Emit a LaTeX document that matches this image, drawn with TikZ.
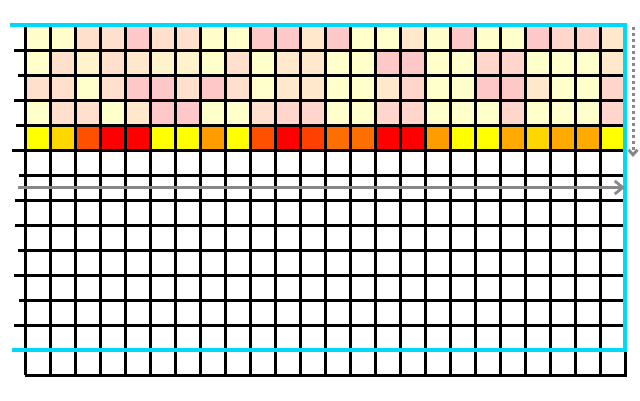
\documentclass[tikz,border=0pt]{standalone}
\usetikzlibrary{arrows.meta}
\definecolor{cY}{HTML}{FFFFCC}
\definecolor{cCr}{HTML}{FFF3CC}
\definecolor{cPe}{HTML}{FFE0CC}
\definecolor{cLp}{HTML}{FFE8CC}
\definecolor{cPk}{HTML}{FFC8C8}
\definecolor{cPs}{HTML}{FFD5CC}
\definecolor{cYe}{HTML}{FFFF00}
\definecolor{cGo}{HTML}{FFD700}
\definecolor{cAb}{HTML}{FFAA00}
\definecolor{cOr}{HTML}{FF9D00}
\definecolor{cDk}{HTML}{FF6E00}
\definecolor{cRa}{HTML}{FF5000}
\definecolor{cRb}{HTML}{FF4000}
\definecolor{cRd}{HTML}{FF0000}
\definecolor{cyanline}{HTML}{00D8F8}
\definecolor{arrowgray}{HTML}{888888}
\tikzset{
  gridline/.style={black, line width=3pt},
  frameline/.style={cyanline, line width=3.2pt},
  scanarrow/.style={arrowgray, line width=2.8pt, -{Straight Barb[length=8pt,width=13pt]}},
  dotarrow/.style={arrowgray, line width=3pt, dash pattern=on 3pt off 3pt, -{Straight Barb[length=5pt,width=9pt]}}
}
\begin{document}
\begin{tikzpicture}[x=1pt,y=-1pt]
\useasboundingbox (0,0) rectangle (640,400);
\fill[white] (0,0) rectangle (640,400);
% cells
\foreach \r/\lst in {
 0/{cY,cY,cPe,cPe,cPk,cPe, cPe,cY,cY,cPk,cPk,cLp, cPk,cY,cY,cLp,cY,cPk, cY,cY,cPk,cPs,cPs,cLp},
 1/{cY,cPe,cCr,cPe,cLp,cCr, cCr,cY,cPe,cY,cLp,cLp, cY,cY,cPk,cPk,cY,cY, cPs,cPs,cY,cY,cY,cLp},
 2/{cPe,cPe,cY,cPe,cPk,cPk, cPe,cPk,cPe,cY,cLp,cLp, cY,cY,cLp,cPs,cY,cY, cPk,cPk,cLp,cY,cY,cPs},
 3/{cY,cPe,cPe,cY,cLp,cPk, cPk,cY,cY,cPe,cPs,cPs, cY,cY,cPs,cPs,cY,cY, cY,cPs,cY,cY,cY,cPs},
 4/{cYe,cGo,cRa,cRd,cRd,cYe, cYe,cOr,cYe,cRa,cRd,cRb, cDk,cDk,cRd,cRd,cOr,cYe, cYe,cAb,cGo,cAb,cAb,cYe}} {
  \foreach \c [count=\i from 0] in \lst {
    \fill[\c] ({25+25*\i},{25+25*\r}) rectangle ++(25,25);
  }
}
% vertical grid lines
\foreach \i in {0,...,24} {
  \draw[gridline] ({25+25*\i},25) -- ({25+25*\i},375);
}
% horizontal grid lines with left ticks
\foreach \yy/\xs in {50/14,75/18,100/14,125/16,150/12,175/19,200/15,225/15,250/18,275/14,300/19,325/14,350/14} {
  \draw[gridline] (\xs,\yy) -- (625,\yy);
}
\draw[gridline] (25,375) -- (627,375);
% cyan frame
\draw[frameline] (10,25) -- (625,25) -- (625,350) -- (12,350);
% arrows
\coordinate (hs) at (18,187.5);
\coordinate (he) at (625,187.5);
\coordinate (vs) at (633,27);
\coordinate (ve) at (633,157);
\draw[scanarrow] (hs) -- (he);
\draw[dotarrow] (vs) -- (ve);
\end{tikzpicture}
\end{document}
